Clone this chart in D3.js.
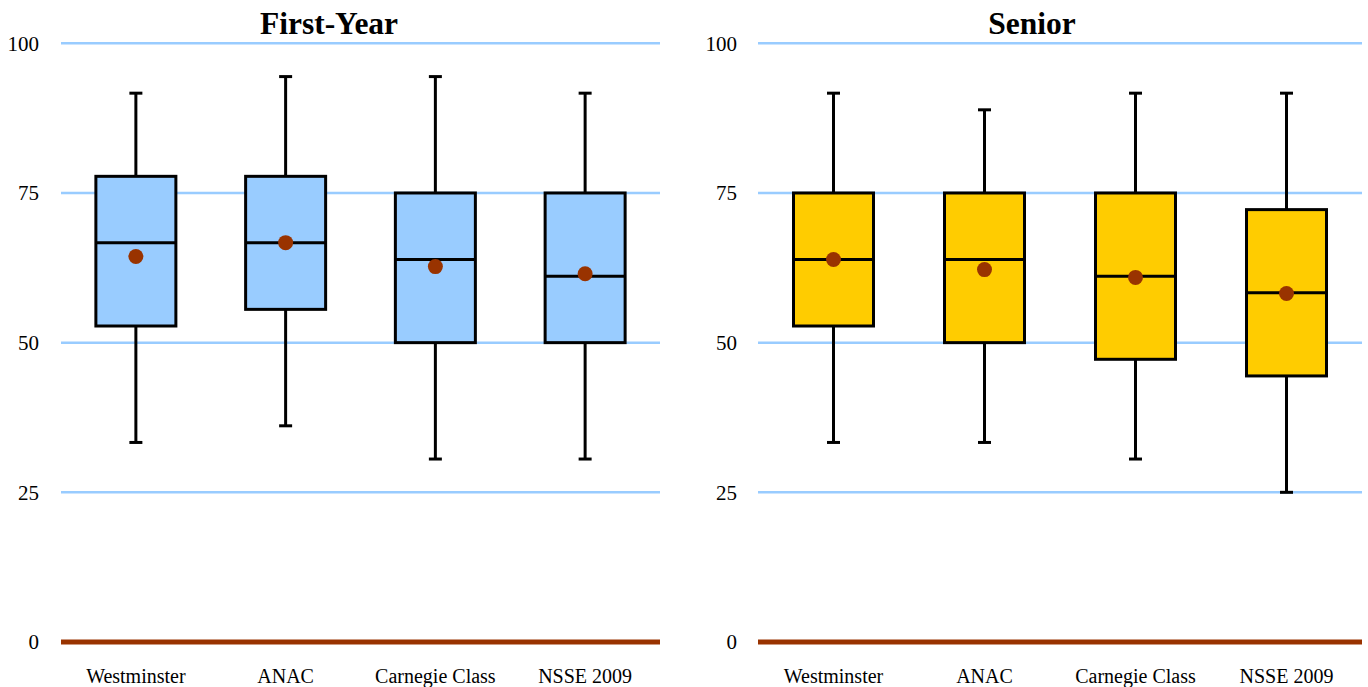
<!DOCTYPE html>
<html><head><meta charset="utf-8">
<script src="https://cdn.jsdelivr.net/npm/d3@7/dist/d3.min.js"></script>
<style>body{margin:0;background:#fff}svg{display:block}</style>
</head><body>
<svg id="c" width="1368" height="687"></svg>
<script>
const categories = ["Westminster", "ANAC", "Carnegie Class", "NSSE 2009"];
const yTicks = [0, 25, 50, 75, 100];
const panelTitles = ["First-Year", "Senior"];
// First-Year
const fyMin    = [33.33, 36.11, 30.56, 30.56];
const fyQ1     = [52.78, 55.56, 50.00, 50.00];
const fyMedian = [66.67, 66.67, 63.89, 61.11];
const fyQ3     = [77.78, 77.78, 75.00, 75.00];
const fyMax    = [91.67, 94.44, 94.44, 91.67];
const fyMean   = [64.4, 66.7, 62.7, 61.5];
// Senior
const srMin    = [33.33, 33.33, 30.56, 25.00];
const srQ1     = [52.78, 50.00, 47.22, 44.44];
const srMedian = [63.89, 63.89, 61.11, 58.33];
const srQ3     = [75.00, 75.00, 75.00, 72.22];
const srMax    = [91.67, 88.89, 91.67, 91.67];
const srMean   = [63.9, 62.2, 60.9, 58.2];

const panels = [
  {title: panelTitles[0], fill: "#99CCFF", min: fyMin, q1: fyQ1, med: fyMedian, q3: fyQ3, max: fyMax, mean: fyMean,
   x0: 61, x1: 660, labelX: 39, titleX: 329},
  {title: panelTitles[1], fill: "#FFCC00", min: srMin, q1: srQ1, med: srMedian, q3: srQ3, max: srMax, mean: srMean,
   x0: 758, x1: 1362, labelX: 737, titleX: 1032}
];

const svg = d3.select("#c");
const y = d3.scaleLinear().domain([0, 100]).range([642, 43.3]);
const font = "Liberation Serif, Times New Roman, serif";

panels.forEach(p => {
  const g = svg.append("g");
  const x = d3.scaleBand().domain(categories).range([p.x0, p.x1]);
  const bw = 80, cap = 13;
  // grid
  g.selectAll("line.grid").data(yTicks.filter(t => t > 0)).enter().append("line")
    .attr("x1", p.x0).attr("x2", p.x1).attr("y1", d => y(d)).attr("y2", d => y(d))
    .attr("stroke", "#99CCFF").attr("stroke-width", 2.5);
  // y labels
  g.selectAll("text.yl").data(yTicks).enter().append("text")
    .attr("x", p.labelX).attr("y", d => y(d)).attr("dy", "0.35em")
    .attr("text-anchor", "end").style("font-family", font).style("font-size", "21px")
    .text(d => d);
  // title
  g.append("text").attr("x", p.titleX).attr("y", 34).attr("text-anchor", "middle")
    .style("font-family", font).style("font-weight", "bold").style("font-size", "31.5px").text(p.title);
  // x labels
  g.selectAll("text.xl").data(categories).enter().append("text")
    .attr("x", d => x(d) + x.bandwidth() / 2).attr("y", 683).attr("text-anchor", "middle")
    .style("font-family", font).style("font-size", "20px").text(d => d);

  categories.forEach((c, i) => {
    const cx = x(c) + x.bandwidth() / 2;
    const bg = g.append("g").attr("stroke", "#000").attr("stroke-width", 3);
    // whiskers
    bg.append("line").attr("x1", cx).attr("x2", cx).attr("y1", y(p.max[i])).attr("y2", y(p.q3[i]));
    bg.append("line").attr("x1", cx).attr("x2", cx).attr("y1", y(p.q1[i])).attr("y2", y(p.min[i]));
    bg.append("line").attr("x1", cx - cap / 2).attr("x2", cx + cap / 2).attr("y1", y(p.max[i])).attr("y2", y(p.max[i]));
    bg.append("line").attr("x1", cx - cap / 2).attr("x2", cx + cap / 2).attr("y1", y(p.min[i])).attr("y2", y(p.min[i]));
    // box
    bg.append("rect").attr("x", cx - bw / 2).attr("y", y(p.q3[i])).attr("width", bw)
      .attr("height", y(p.q1[i]) - y(p.q3[i])).attr("fill", p.fill);
    bg.append("line").attr("x1", cx - bw / 2).attr("x2", cx + bw / 2).attr("y1", y(p.med[i])).attr("y2", y(p.med[i]));
    g.append("circle").attr("cx", cx).attr("cy", y(p.mean[i])).attr("r", 7.5).attr("fill", "#993300");
  });
  // zero line
  g.append("line").attr("x1", p.x0).attr("x2", p.x1).attr("y1", y(0)).attr("y2", y(0))
    .attr("stroke", "#993300").attr("stroke-width", 5);
});
</script>
</body></html>
